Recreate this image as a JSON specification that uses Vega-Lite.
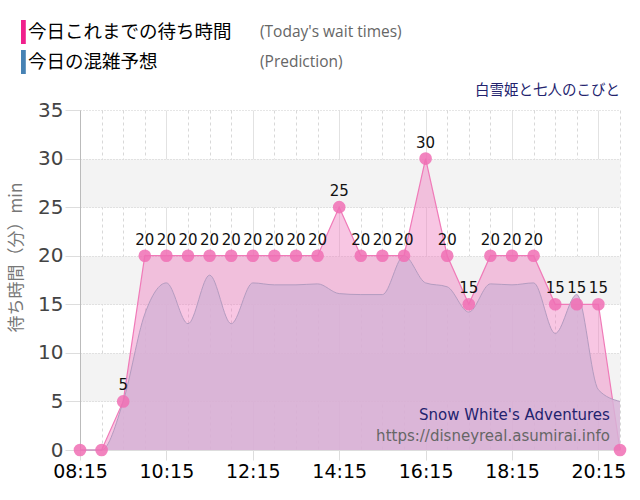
{
  "$schema": "https://vega.github.io/schema/vega-lite/v6.json",
  "width": 540,
  "height": 340,
  "padding": {"left": 7, "top": 20, "right": 20, "bottom": 10},
  "background": "#ffffff",
  "config": {
    "view": {"stroke": null, "fill": "#f8f8f8"},
    "axis": {"labelFont": "DejaVu Sans", "titleFont": "Noto Sans CJK JP"}
  },
  "data": {
    "values": [
      {"t": "08:15", "actual": 0, "pred": 0},
      {"t": "08:45", "actual": 0, "pred": 0},
      {"t": "09:15", "actual": 5, "pred": 5},
      {"t": "09:45", "actual": 20, "pred": 14},
      {"t": "10:15", "actual": 20, "pred": 17.2},
      {"t": "10:45", "actual": 20, "pred": 13},
      {"t": "11:15", "actual": 20, "pred": 18},
      {"t": "11:45", "actual": 20, "pred": 13},
      {"t": "12:15", "actual": 20, "pred": 17.2},
      {"t": "12:45", "actual": 20, "pred": 17},
      {"t": "13:15", "actual": 20, "pred": 17},
      {"t": "13:45", "actual": 20, "pred": 17.1},
      {"t": "14:15", "actual": 25, "pred": 16.1},
      {"t": "14:45", "actual": 20, "pred": 16},
      {"t": "15:15", "actual": 20, "pred": 16},
      {"t": "15:45", "actual": 20, "pred": 20},
      {"t": "16:15", "actual": 30, "pred": 17.2},
      {"t": "16:45", "actual": 20, "pred": 16.8},
      {"t": "17:15", "actual": 15, "pred": 14.2},
      {"t": "17:45", "actual": 20, "pred": 17.1},
      {"t": "18:15", "actual": 20, "pred": 17},
      {"t": "18:45", "actual": 20, "pred": 17.2},
      {"t": "19:15", "actual": 15, "pred": 12},
      {"t": "19:45", "actual": 15, "pred": 16},
      {"t": "20:15", "actual": 15, "pred": 6.2},
      {"t": "20:45", "actual": 0, "pred": 5}
    ],
    "format": {"parse": {"t": "date:'%H:%M'"}}
  },
  "resolve": {"axis": {"x": "independent", "y": "independent"}},
  "layer": [
    {
      "mark": {
        "type": "area",
        "fill": "#f080c0",
        "fillOpacity": 0.45,
        "line": {"stroke": "#f07ab8", "strokeWidth": 1.2}
      },
      "encoding": {
        "x": {
          "field": "t",
          "type": "temporal",
          "scale": {
            "domain": [
              {"year": 1900, "month": 1, "date": 1, "hours": 8, "minutes": 15},
              {"year": 1900, "month": 1, "date": 1, "hours": 20, "minutes": 45}
            ]
          },
          "axis": {
            "orient": "bottom",
            "title": null,
            "labels": false,
            "ticks": false,
            "domain": false,
            "grid": true,
            "gridColor": "#d8d8d8",
            "gridDash": [3, 3],
            "values": [
              {"year": 1900, "month": 1, "date": 1, "hours": 8, "minutes": 45},
              {"year": 1900, "month": 1, "date": 1, "hours": 9, "minutes": 15},
              {"year": 1900, "month": 1, "date": 1, "hours": 9, "minutes": 45},
              {"year": 1900, "month": 1, "date": 1, "hours": 10, "minutes": 45},
              {"year": 1900, "month": 1, "date": 1, "hours": 11, "minutes": 15},
              {"year": 1900, "month": 1, "date": 1, "hours": 11, "minutes": 45},
              {"year": 1900, "month": 1, "date": 1, "hours": 12, "minutes": 45},
              {"year": 1900, "month": 1, "date": 1, "hours": 13, "minutes": 15},
              {"year": 1900, "month": 1, "date": 1, "hours": 13, "minutes": 45},
              {"year": 1900, "month": 1, "date": 1, "hours": 14, "minutes": 45},
              {"year": 1900, "month": 1, "date": 1, "hours": 15, "minutes": 15},
              {"year": 1900, "month": 1, "date": 1, "hours": 15, "minutes": 45},
              {"year": 1900, "month": 1, "date": 1, "hours": 16, "minutes": 45},
              {"year": 1900, "month": 1, "date": 1, "hours": 17, "minutes": 15},
              {"year": 1900, "month": 1, "date": 1, "hours": 17, "minutes": 45},
              {"year": 1900, "month": 1, "date": 1, "hours": 18, "minutes": 45},
              {"year": 1900, "month": 1, "date": 1, "hours": 19, "minutes": 15},
              {"year": 1900, "month": 1, "date": 1, "hours": 19, "minutes": 45},
              {"year": 1900, "month": 1, "date": 1, "hours": 20, "minutes": 45}
            ]
          }
        },
        "y": {
          "field": "actual",
          "type": "quantitative",
          "scale": {"domain": [0, 35], "nice": false},
          "axis": {
            "orient": "left",
            "title": null,
            "labels": false,
            "ticks": false,
            "domain": false,
            "grid": true,
            "gridColor": "#f3f3f3",
            "gridWidth": 48.6,
            "values": [7.5, 17.5, 27.5]
          }
        }
      }
    },
    {
      "mark": {
        "type": "area",
        "interpolate": "monotone",
        "fill": "#d6b3d6",
        "fillOpacity": 0.85,
        "line": {"stroke": "#b49cc0", "strokeWidth": 1, "interpolate": "monotone"}
      },
      "encoding": {
        "x": {
          "field": "t",
          "type": "temporal",
          "axis": {
            "orient": "bottom",
            "title": null,
            "format": "%H:%M",
            "labelFontSize": 19,
            "labelColor": "#000000",
            "labelPadding": 2,
            "labelFlush": false,
            "labelOverlap": false,
            "tickSize": 10,
            "tickColor": "#dddddd",
            "domainColor": "#dddddd",
            "grid": true,
            "gridColor": "#e2e2e2",
            "values": [
              {"year": 1900, "month": 1, "date": 1, "hours": 8, "minutes": 15},
              {"year": 1900, "month": 1, "date": 1, "hours": 10, "minutes": 15},
              {"year": 1900, "month": 1, "date": 1, "hours": 12, "minutes": 15},
              {"year": 1900, "month": 1, "date": 1, "hours": 14, "minutes": 15},
              {"year": 1900, "month": 1, "date": 1, "hours": 16, "minutes": 15},
              {"year": 1900, "month": 1, "date": 1, "hours": 18, "minutes": 15},
              {"year": 1900, "month": 1, "date": 1, "hours": 20, "minutes": 15}
            ]
          }
        },
        "y": {
          "field": "pred",
          "type": "quantitative",
          "axis": {
            "orient": "left",
            "title": "待ち時間（分）min",
            "titleFontSize": 17,
            "titleFontWeight": "normal",
            "titleColor": "#777777",
            "titlePadding": 12,
            "titleY": 147,
            "values": [0, 5, 10, 15, 20, 25, 30, 35],
            "labelFontSize": 20,
            "labelColor": "#444444",
            "labelPadding": 2,
            "tickSize": 15,
            "tickColor": "#dddddd",
            "domainColor": "#bbbbbb",
            "grid": true,
            "gridColor": "#cccccc",
            "gridDash": [1, 2]
          }
        }
      }
    },
    {
      "mark": {"type": "circle", "size": 160, "color": "#f06eb4", "opacity": 0.85},
      "encoding": {
        "x": {"field": "t", "type": "temporal", "axis": null},
        "y": {"field": "actual", "type": "quantitative", "axis": null}
      }
    },
    {
      "transform": [{"filter": "datum.actual > 0"}],
      "mark": {"type": "text", "dy": -16, "font": "DejaVu Sans", "fontSize": 15, "color": "#111111"},
      "encoding": {
        "x": {"field": "t", "type": "temporal", "axis": null},
        "y": {"field": "actual", "type": "quantitative", "axis": null},
        "text": {"field": "actual", "type": "quantitative"}
      }
    },
    {
      "data": {"values": [{"attraction": "白雪姫と七人のこびと", "site": "Snow White's Adventures", "url": "https://disneyreal.asumirai.info"}]},
      "mark": {"type": "text", "align": "right", "baseline": "middle", "dy": -19, "font": "Noto Sans CJK JP", "fontSize": 14.5, "color": "#23236e"},
      "encoding": {
        "x": {"datum": {"year": 1900, "month": 1, "date": 1, "hours": 20, "minutes": 45}, "type": "temporal", "axis": null},
        "y": {"datum": 35, "type": "quantitative", "axis": null},
        "text": {"field": "attraction", "type": "nominal"}
      }
    },
    {
      "data": {"values": [{"attraction": "白雪姫と七人のこびと", "site": "Snow White's Adventures", "url": "https://disneyreal.asumirai.info"}]},
      "mark": {"type": "text", "align": "right", "font": "DejaVu Sans", "fontSize": 15, "color": "#23236e"},
      "encoding": {
        "x": {"datum": {"year": 1900, "month": 1, "date": 1, "hours": 20, "minutes": 31}, "type": "temporal", "axis": null},
        "y": {"datum": 3.6, "type": "quantitative", "axis": null},
        "text": {"field": "site", "type": "nominal"}
      }
    },
    {
      "data": {"values": [{"attraction": "白雪姫と七人のこびと", "site": "Snow White's Adventures", "url": "https://disneyreal.asumirai.info"}]},
      "mark": {"type": "text", "align": "right", "font": "DejaVu Sans", "fontSize": 15, "color": "#666666"},
      "encoding": {
        "x": {"datum": {"year": 1900, "month": 1, "date": 1, "hours": 20, "minutes": 31}, "type": "temporal", "axis": null},
        "y": {"datum": 1.45, "type": "quantitative", "axis": null},
        "text": {"field": "url", "type": "nominal"}
      }
    },
    {
      "data": {
        "values": [
          {"ja": "今日これまでの待ち時間", "en": "(Today's wait times)"},
          {"ja": "今日の混雑予想", "en": "(Prediction)"}
        ]
      },
      "mark": {"type": "point", "filled": true, "opacity": 0},
      "encoding": {
        "color": {
          "field": "ja",
          "type": "nominal",
          "scale": {"domain": ["今日これまでの待ち時間", "今日の混雑予想"], "range": ["#f0208c", "#4682b4"]},
          "legend": {
            "title": null,
            "orient": "none",
            "legendX": -59,
            "legendY": -90,
            "symbolType": "M-1,-1H-0.6V1H-1Z",
            "symbolSize": 576,
            "symbolOpacity": 1,
            "symbolStrokeWidth": 0,
            "labelFont": "Noto Sans CJK JP",
            "labelFontSize": 18.5,
            "labelColor": "#000000",
            "labelOffset": -17,
            "labelLimit": 400,
            "rowPadding": 6
          }
        },
        "shape": {
          "field": "en",
          "type": "nominal",
          "scale": {"domain": ["(Today's wait times)", "(Prediction)"], "range": ["circle", "circle"]},
          "legend": {
            "title": null,
            "orient": "none",
            "legendX": 156,
            "legendY": -90,
            "symbolSize": 576,
            "symbolOpacity": 0,
            "symbolStrokeWidth": 0,
            "labelFont": "Open Sans",
            "labelFontSize": 15.5,
            "labelColor": "#666666",
            "labelOffset": 0,
            "labelLimit": 400,
            "rowPadding": 6
          }
        }
      }
    }
  ]
}
